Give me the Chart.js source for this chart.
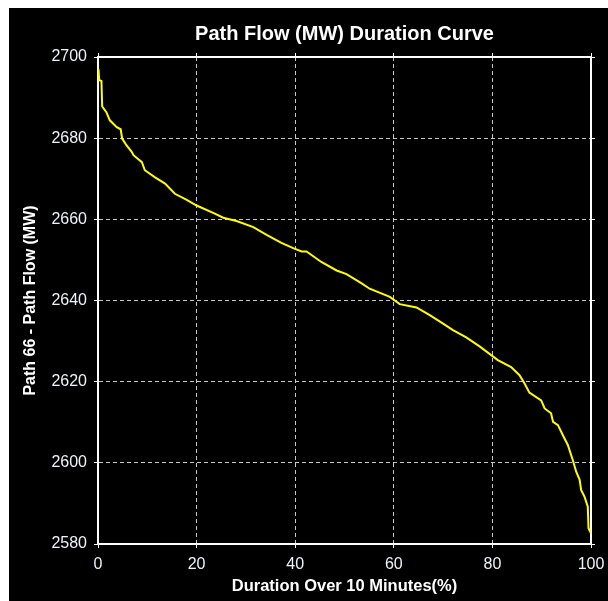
<!DOCTYPE html>
<html>
<head>
<meta charset="utf-8">
<script src="https://cdn.jsdelivr.net/npm/chart.js@4/dist/chart.umd.min.js"></script>
<style>
  html, body { margin: 0; padding: 0; background: #ffffff; }
  #wrap { position: absolute; left: 9px; top: 8px; width: 599px; height: 593px; background: #000000; }
  canvas { display: block; }
</style>
</head>
<body>
<div id="wrap"><canvas id="c" width="599" height="593"></canvas></div>
<script>
const chartTitle = "Path Flow (MW) Duration Curve";
const xAxisTitle = "Duration Over 10 Minutes(%)";
const yAxisTitle = "Path 66 - Path Flow (MW)";
const xTickValues = [0, 20, 40, 60, 80, 100];
const yTickValues = [2580, 2600, 2620, 2640, 2660, 2680, 2700];

const durationPct = [0.1, 0.25, 0.7, 0.85, 1.7, 2.4, 3.8, 4.6, 4.9, 5.8, 6.8, 7.2, 8.9, 9.5, 11.5, 13.6, 15.6, 18.0, 20.0, 23.7, 25.4, 28.1, 31.5, 34.2, 37.2, 39.6, 41.3, 42.3, 45.3, 48.4, 50.4, 53.4, 55.1, 59.2, 61.2, 64.6, 67.3, 70.0, 72.0, 74.7, 77.4, 81.1, 83.8, 85.5, 86.5, 87.5, 89.9, 90.6, 91.9, 92.3, 93.3, 94.3, 95.3, 96.3, 97.0, 97.7, 98.0, 98.7, 99.35, 99.5, 100];
const pathFlowMW = [2697.0, 2694.3, 2694.1, 2687.8, 2686.4, 2684.4, 2682.7, 2682.2, 2679.9, 2678.2, 2676.7, 2675.8, 2674.1, 2672.1, 2670.4, 2668.8, 2666.3, 2664.8, 2663.4, 2661.4, 2660.4, 2659.6, 2658.1, 2656.2, 2654.2, 2652.9, 2652.1, 2652.1, 2649.5, 2647.4, 2646.5, 2644.3, 2642.9, 2640.9, 2639.1, 2638.3, 2636.4, 2634.3, 2632.7, 2630.9, 2628.7, 2625.3, 2623.6, 2621.6, 2619.6, 2617.3, 2615.4, 2613.4, 2612.2, 2610.1, 2609.3, 2606.8, 2604.4, 2600.7, 2597.8, 2595.8, 2593.3, 2591.6, 2589.2, 2583.9, 2582.6];

const points = durationPct.map((p, i) => ({ x: p, y: pathFlowMW[i] }));

const FONT = '"Liberation Sans", Arial, sans-serif';
const tickColor = '#eef2f8';
const gridDash = [4, 3];

function fixedTicks(values) {
  return function (scale) {
    scale.ticks = values.map(v => ({ value: v }));
  };
}
const plainLabel = v => String(v);

new Chart(document.getElementById('c'), {
  type: 'line',
  data: {
    datasets: [{
      data: points,
      borderColor: '#ffff00',
      borderWidth: 2,
      pointRadius: 0,
      tension: 0,
      fill: false
    }]
  },
  options: {
    responsive: false,
    animation: false,
    events: [],
    layout: { padding: 0 },
    plugins: {
      legend: { display: false },
      tooltip: { enabled: false },
      title: {
        display: true,
        text: chartTitle,
        fullSize: false,
        color: '#ffffff',
        font: { family: FONT, size: 20, weight: 'bold' },
        padding: { top: 14, bottom: 4 }
      }
    },
    scales: {
      x: {
        type: 'linear',
        position: 'bottom',
        min: 0, max: 100,
        afterBuildTicks: fixedTicks(xTickValues),
        afterFit: s => { s.height = 57; s.paddingLeft = 0; s.paddingRight = 0; },
        grid: { color: '#c8c8c8', lineWidth: 1, tickColor: '#ffffff', tickLength: 4, tickWidth: 1 },
        border: { display: true, color: '#ffffff', width: 2, dash: gridDash },
        ticks: { color: tickColor, font: { family: FONT, size: 16 }, padding: 7, maxRotation: 0, callback: plainLabel },
        title: { display: true, text: xAxisTitle, color: '#ffffff', font: { family: FONT, size: 16.5, weight: 'bold' }, padding: { top: 4, bottom: 5 } }
      },
      x2: {
        type: 'linear',
        position: 'top',
        min: 0, max: 100,
        afterBuildTicks: fixedTicks(xTickValues),
        afterFit: s => { s.height = 7; s.paddingLeft = 0; s.paddingRight = 0; },
        grid: { drawOnChartArea: false, color: '#ffffff', tickColor: '#ffffff', tickLength: 4 },
        border: { display: true, color: '#ffffff', width: 2 },
        ticks: { display: false }
      },
      y: {
        type: 'linear',
        position: 'left',
        min: 2580, max: 2700,
        afterBuildTicks: fixedTicks(yTickValues),
        afterFit: s => { s.width = 89; },
        grid: { color: '#c8c8c8', lineWidth: 1, tickColor: '#ffffff', tickLength: 4, tickWidth: 1 },
        border: { display: true, color: '#ffffff', width: 2, dash: gridDash },
        ticks: { color: tickColor, font: { family: FONT, size: 16 }, padding: 7, callback: plainLabel },
        title: { display: true, text: yAxisTitle, color: '#ffffff', font: { family: FONT, size: 16, weight: 'bold' }, padding: { top: 12, bottom: 4 } }
      },
      y2: {
        type: 'linear',
        position: 'right',
        min: 2580, max: 2700,
        afterBuildTicks: fixedTicks(yTickValues),
        afterFit: s => { s.width = 17; },
        grid: { drawOnChartArea: false, color: '#ffffff', tickColor: '#ffffff', tickLength: 4 },
        border: { display: true, color: '#ffffff', width: 2 },
        ticks: { display: false }
      }
    }
  }
});
</script>
</body>
</html>
